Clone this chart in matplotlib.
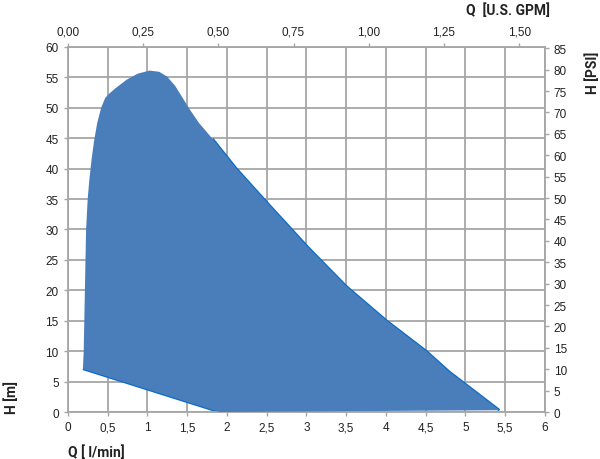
import numpy as np
import matplotlib.pyplot as plt

# contour of the operating field, Q in l/min and H in m
Q_field = [0.19, 0.20, 0.215, 0.23, 0.25, 0.27, 0.30, 0.33, 0.37, 0.42, 0.47, 0.52,
           0.60, 0.74, 0.88, 1.03, 1.15, 1.25, 1.35, 1.45, 1.53, 1.65, 1.82, 2.12,
           2.50, 3.02, 3.50, 4.01, 4.51, 4.80, 5.43, 3.50, 1.91]
H_field = [7.1, 10.0, 20.0, 30.0, 35.0, 38.0, 41.6, 44.5, 47.5, 50.0, 51.6, 52.3,
           53.2, 54.6, 55.6, 56.1, 55.9, 55.1, 53.6, 51.5, 49.8, 47.5, 44.9, 40.0,
           34.5, 27.1, 20.7, 15.0, 10.0, 6.6, 0.3, 0.15, 0.0]

# darker edge lines of the curve
Q_low = [0.19, 1.91]
H_low = [7.1, 0.0]
Q_high = [1.82, 2.12, 2.50, 3.02, 3.50, 4.01, 4.51, 4.80, 5.43]
H_high = [44.9, 40.0, 34.5, 27.1, 20.7, 15.0, 10.0, 6.6, 0.3]

x_ticks = np.arange(0, 6.01, 0.5)
y_ticks = np.arange(0, 60.1, 5)
gpm_ticks = np.arange(0, 1.51, 0.25)
psi_ticks = np.arange(0, 86, 5)

LPM_PER_GPM = 3.78541
PSI_PER_M = 1.42197

def comma(v, nd=None):
    if nd is None:
        s = ("%g" % v)
    else:
        s = ("%." + str(nd) + "f") % v
    return s.replace(".", ",")

plt.rcParams['font.family'] = ['Liberation Sans', 'DejaVu Sans']
grid_col = "#a6a6a6"

fig = plt.figure(figsize=(6, 4.6), dpi=100)
ax = fig.add_axes([0.113, 0.102, 0.795, 0.794])

ax.plot(Q_low, H_low, color="#0a6cc8", lw=1.8, zorder=2, solid_capstyle="butt")
ax.plot(Q_high, H_high, color="#0a6cc8", lw=1.8, zorder=2, solid_capstyle="butt")
ax.fill(Q_field, H_field, color="#4a7ebb", lw=0, zorder=3)

ax.set_xlim(0, 6)
ax.set_ylim(0, 60)
ax.set_xticks(x_ticks)
ax.set_xticklabels([comma(v) for v in x_ticks])
ax.set_yticks(y_ticks)
ax.set_yticklabels([comma(v) for v in y_ticks])
ax.grid(True, color=grid_col, lw=1.3, zorder=0)
ax.set_axisbelow(True)
for s in ax.spines.values():
    s.set_color(grid_col)
    s.set_linewidth(1.3)
ax.tick_params(colors=grid_col, labelcolor="#222222", labelsize=8.5, length=3, width=1)

top = ax.secondary_xaxis('top', functions=(lambda q: q / LPM_PER_GPM, lambda g: g * LPM_PER_GPM))
top.set_xticks(gpm_ticks)
top.set_xticklabels([comma(v, 2) for v in gpm_ticks])
top.tick_params(colors=grid_col, labelcolor="#222222", labelsize=8.5, length=3, width=1)
top.spines['top'].set_visible(False)

right = ax.secondary_yaxis('right', functions=(lambda h: h * PSI_PER_M, lambda p: p / PSI_PER_M))
right.set_yticks(psi_ticks)
right.set_yticklabels([comma(v) for v in psi_ticks])
right.tick_params(colors=grid_col, labelcolor="#222222", labelsize=8.5, length=3, width=1)
right.spines['right'].set_visible(False)

lab = dict(fontsize=10, fontweight="bold", color="#222222", family=["Roboto", "DejaVu Sans"])
fig.text(0.113, 0.015, "Q [ l/min]", ha="left", va="center", **lab)
fig.text(0.008, 0.10, "H [m]", rotation=90, ha="left", va="bottom", **lab)
fig.text(0.916, 0.993, "Q  [U.S. GPM]", ha="right", va="top", **lab)
fig.text(0.988, 0.888, "H [PSI]", rotation=90, ha="center", va="top", **lab)

fig.savefig("out.png", dpi=100)
